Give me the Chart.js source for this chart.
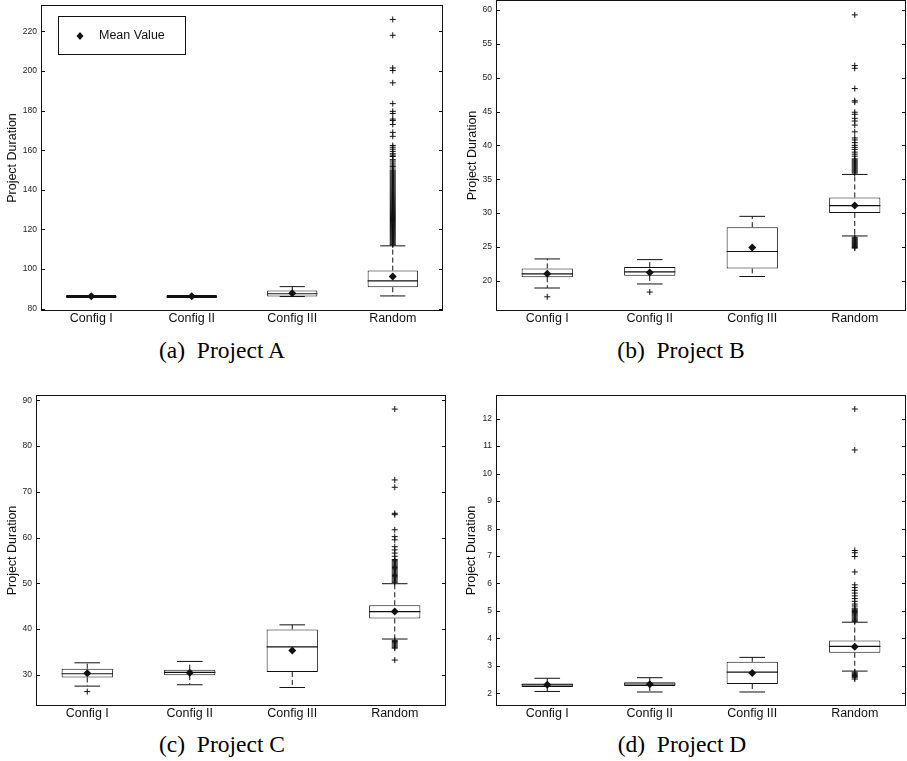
<!DOCTYPE html>
<html>
<head>
<meta charset="utf-8">
<script src="https://cdn.jsdelivr.net/npm/chart.js@4.4.0/dist/chart.umd.min.js"></script>
<style>
  body { margin: 0; background: #fff; width: 907px; height: 761px; position: relative; overflow: hidden; }
  .panel { position: absolute; }
  .cap { position: absolute; font-family: "Liberation Serif", "Times New Roman", serif; font-size: 23.5px; line-height: 23px; color: #000; white-space: nowrap; transform: translateX(-50%); }
</style>
</head>
<body>
<div class="panel" style="left:0;top:0;width:453px;height:330px"><canvas id="chartA"></canvas></div>
<div class="panel" style="left:453px;top:0;width:454px;height:330px"><canvas id="chartB"></canvas></div>
<div class="panel" style="left:0;top:380px;width:453px;height:345px"><canvas id="chartC"></canvas></div>
<div class="panel" style="left:453px;top:380px;width:454px;height:345px"><canvas id="chartD"></canvas></div>
<div class="cap" style="left:222px;top:339px">(a)&nbsp;&nbsp;Project A</div>
<div class="cap" style="left:681px;top:339px">(b)&nbsp;&nbsp;Project B</div>
<div class="cap" style="left:222px;top:733px">(c)&nbsp;&nbsp;Project C</div>
<div class="cap" style="left:682px;top:733px">(d)&nbsp;&nbsp;Project D</div>
<script>
// ========== DATA ==========
const categories = ['Config I', 'Config II', 'Config III', 'Random'];

// Project A
const aLow    = [86, 86, 86.1, 86.4];
const aQ1     = [85.4, 85.4, 86.1, 90.8];
const aMedian = [86.1, 86.1, 87.5, 94.0];
const aQ3     = [86.9, 86.9, 89.1, 99.2];
const aHigh   = [86, 86, 91.1, 111.7];
const aMean   = [86.2, 86.2, 87.8, 96.2];
const aOutRandom = [226, 218, 201.5, 200.2, 194, 183.5, 179.6, 178.5, 175.7, 175, 173, 169, 167,
  162.4, 161.5, 160.5, 159.4, 158.2, 157.5, 156.8, 155.2, 154.5, 153.5, 152.5, 151.8, 151,
  150, 149.5, 149, 148.5, 148, 147.5, 147, 146.5, 146, 145.5, 145, 144.5, 144, 143.5, 143,
  142.5, 142, 141.5, 141, 140.5, 140, 139.5, 139, 138.5, 138, 137.5, 137, 136.5, 136, 135.5,
  135, 134.5, 134, 133.5, 133, 132.5, 132, 131.5, 131, 130.5, 130, 129.5, 129, 128.5, 128,
  127.5, 127, 126.5, 126, 125.5, 125, 124.5, 124, 123.5, 123, 122.5, 122, 121.5, 121, 120.5,
  120, 119.5, 119, 118.5, 118, 117.5, 117, 116.5, 116, 115.5, 115, 114.5, 114, 113.5, 113,
  112.5, 112.2];
const aTicks  = [80, 100, 120, 140, 160, 180, 200, 220];

// Project B
const bLow    = [18.9, 19.5, 20.6, 26.6];
const bQ1     = [20.5, 20.7, 21.8, 30.0];
const bMedian = [21.0, 21.3, 24.3, 31.1];
const bQ3     = [21.8, 22.0, 27.9, 32.3];
const bHigh   = [23.2, 23.1, 29.5, 35.7];
const bMean   = [21.0, 21.2, 24.9, 31.1];
const bOutConfigI  = [17.6];
const bOutConfigII = [18.3];
const bOutRandom = [59.3, 51.8, 51.4, 48.4, 46.6, 46.4, 44.9, 44.6, 44.0, 43.6, 43.0, 42.0, 41.1,
  40.8, 40.4, 40.0, 39.7, 39.4, 39.0, 38.7, 38.4, 38.0, 37.85, 37.7, 37.55, 37.4, 37.25, 37.1,
  36.95, 36.8, 36.65, 36.5, 36.35, 36.2, 36.05, 35.9,
  26.4, 26.25, 26.1, 25.95, 25.8, 25.65, 25.5, 25.35, 25.2, 25.05, 24.9, 24.8];
const bTicks  = [20, 25, 30, 35, 40, 45, 50, 55, 60];

// Project C
const cLow    = [27.5, 27.8, 27.2, 37.8];
const cQ1     = [29.4, 29.9, 30.6, 42.3];
const cMedian = [30.2, 30.5, 36.1, 43.8];
const cQ3     = [31.3, 31.1, 39.9, 45.2];
const cHigh   = [32.6, 32.9, 40.9, 49.9];
const cMean   = [30.3, 30.4, 35.3, 43.8];
const cOutConfigI = [26.3];
const cOutRandom = [88.1, 72.6, 71.0, 65.3, 65.0, 61.7, 60.2, 59.5, 58.0, 57.3, 56.6, 55.9,
  55.2, 54.95, 54.7, 54.45, 54.2, 53.95, 53.7, 53.45, 53.2, 52.95, 52.7, 52.45, 52.2, 51.95,
  51.7, 51.45, 51.2, 50.95, 50.7, 50.45, 50.2,
  37.5, 37.25, 37.0, 36.75, 36.5, 36.25, 36.0, 35.8, 33.2];
const cTicks  = [30, 40, 50, 60, 70, 80, 90];

// Project D
const dLow    = [2.07, 2.05, 2.05, 2.81];
const dQ1     = [2.23, 2.27, 2.34, 3.48];
const dMedian = [2.31, 2.34, 2.77, 3.71];
const dQ3     = [2.36, 2.40, 3.15, 3.92];
const dHigh   = [2.55, 2.57, 3.31, 4.59];
const dMean   = [2.31, 2.33, 2.74, 3.70];
const dOutRandom = [12.35, 10.86, 7.2, 7.12, 6.98, 6.42, 5.95, 5.85, 5.75, 5.65, 5.55, 5.45, 5.35,
  5.25, 5.18, 5.10, 5.06, 5.02, 4.98, 4.94, 4.90, 4.86, 4.82, 4.78, 4.74, 4.70, 4.66, 4.62,
  2.77, 2.73, 2.69, 2.65, 2.61, 2.57, 2.52];
const dTicks  = [2, 3, 4, 5, 6, 7, 8, 9, 10, 11, 12];

const FONT = '"Liberation Sans", Arial, Helvetica, sans-serif';
const INK = '#111';

// ========== FRAME + INWARD TICKS ==========
const framePlugin = {
  id: 'frame',
  afterDatasetsDraw(chart) {
    const { ctx, chartArea: a } = chart;
    const y = chart.scales.y;
    ctx.save();
    ctx.strokeStyle = INK;
    ctx.lineWidth = 1;
    ctx.strokeRect(a.left + 0.5, a.top + 0.5, a.right - a.left - 1, a.bottom - a.top - 1);
    ctx.beginPath();
    y.ticks.forEach(t => {
      const py = Math.round(y.getPixelForValue(t.value)) + 0.5;
      ctx.moveTo(a.left, py); ctx.lineTo(a.left + 4, py);
      ctx.moveTo(a.right - 4, py); ctx.lineTo(a.right, py);
    });
    ctx.stroke();
    ctx.restore();
  }
};

// ========== MEAN VALUE LEGEND (panel A) ==========
const meanLegendPlugin = {
  id: 'meanLegend',
  afterDraw(chart) {
    const { ctx, chartArea: a } = chart;
    const x0 = a.left + 17, y0 = a.top + 11, w = 127, h = 38;
    ctx.save();
    ctx.strokeStyle = INK;
    ctx.lineWidth = 1;
    ctx.strokeRect(x0 + 0.5, y0 + 0.5, w, h);
    const cx = x0 + 22, cy = y0 + 20;
    ctx.fillStyle = INK;
    ctx.beginPath();
    ctx.moveTo(cx, cy - 4); ctx.lineTo(cx + 3.5, cy); ctx.lineTo(cx, cy + 4); ctx.lineTo(cx - 3.5, cy);
    ctx.closePath();
    ctx.fill();
    ctx.font = '12.5px ' + FONT;
    ctx.textBaseline = 'middle';
    ctx.fillText('Mean Value', x0 + 41, cy);
    ctx.restore();
  }
};

// ========== BOX CHART BUILDER ==========
function whiskerPoints(q1, q3, low, high) {
  const pts = [];
  categories.forEach((c, i) => {
    pts.push({ x: c, y: q3[i] }, { x: c, y: high[i] }, { x: c, y: null });
    pts.push({ x: c, y: q1[i] }, { x: c, y: low[i] }, { x: c, y: null });
  });
  return pts;
}

// box width is half a category slot; caps are half the box
const boxHalf = ctx => (ctx.chart.chartArea ? ctx.chart.chartArea.width / 16 : 25);
const capHalf = ctx => (ctx.chart.chartArea ? ctx.chart.chartArea.width / 32 : 12.5);

function makeBoxChart(id, p) {
  const outliers = [];
  p.outliers.forEach((list, i) => list.forEach(v => outliers.push({ x: categories[i], y: v })));
  const plugins = [framePlugin];
  if (p.legend) plugins.push(meanLegendPlugin);

  return new Chart(document.getElementById(id), {
    type: 'bar',
    data: {
      labels: categories,
      datasets: [
        {
          type: 'line', label: 'Mean Value', order: 0,
          data: categories.map((c, i) => ({ x: c, y: p.mean[i] })),
          showLine: false, pointStyle: 'rectRot', pointRadius: 4,
          pointBackgroundColor: INK, pointBorderColor: INK, pointBorderWidth: 0
        },
        {
          type: 'line', label: 'median', order: 1,
          data: categories.map((c, i) => ({ x: c, y: p.median[i] })),
          showLine: false, pointStyle: 'line', pointRadius: boxHalf,
          pointBorderColor: INK, pointBorderWidth: 1.2
        },
        {
          type: 'line', label: 'caps', order: 2,
          data: categories.flatMap((c, i) => [{ x: c, y: p.low[i] }, { x: c, y: p.high[i] }]),
          showLine: false, pointStyle: 'line', pointRadius: capHalf,
          pointBorderColor: INK, pointBorderWidth: 1
        },
        {
          type: 'line', label: 'outliers', order: 3,
          data: outliers,
          showLine: false, pointStyle: 'cross', pointRadius: 3,
          pointBorderColor: INK, pointBorderWidth: 1
        },
        {
          type: 'line', label: 'whiskers', order: 4,
          data: whiskerPoints(p.q1, p.q3, p.low, p.high),
          borderColor: INK, borderWidth: 1, borderDash: [5, 3],
          pointRadius: 0, spanGaps: false, fill: false
        },
        {
          type: 'bar', label: 'box', order: 5,
          data: categories.map((c, i) => [p.q1[i], p.q3[i]]),
          backgroundColor: '#fff', borderColor: INK, borderWidth: 1, borderSkipped: false,
          barPercentage: 0.5, categoryPercentage: 1.0
        }
      ]
    },
    options: {
      responsive: true,
      maintainAspectRatio: false,
      animation: false,
      events: [],
      layout: { autoPadding: false, padding: p.padding },
      plugins: { legend: { display: false }, tooltip: { enabled: false } },
      scales: {
        x: {
          type: 'category', offset: true,
          grid: { display: false, drawTicks: false }, border: { display: false },
          ticks: { color: INK, font: { family: FONT, size: 12.5 }, padding: 0, maxRotation: 0, autoSkip: false },
          afterFit: s => { s.height = 19; s.paddingLeft = 0; s.paddingRight = 0; }
        },
        y: {
          min: p.min, max: p.max,
          grid: { display: false, drawTicks: false }, border: { display: false },
          afterBuildTicks: s => { s.ticks = p.ticks.map(v => ({ value: v })); },
          ticks: { color: '#222', font: { family: FONT, size: 8.5 }, padding: 4 },
          title: {
            display: true, text: 'Project Duration', color: INK,
            font: { family: FONT, size: 12.5 }, padding: { top: p.titlePad, bottom: 0 }
          },
          afterFit: s => { s.width = p.yWidth; s.paddingTop = 0; s.paddingBottom = 0; }
        }
      }
    },
    plugins: plugins
  });
}

// ========== PANELS ==========
makeBoxChart('chartA', {
  low: aLow, q1: aQ1, median: aMedian, q3: aQ3, high: aHigh, mean: aMean,
  outliers: [[], [], [], aOutRandom], ticks: aTicks, min: 78.8, max: 233.3,
  yWidth: 41, titlePad: 5, padding: { top: 5, right: 10, left: 0, bottom: 0 }, legend: true
});
makeBoxChart('chartB', {
  low: bLow, q1: bQ1, median: bMedian, q3: bQ3, high: bHigh, mean: bMean,
  outliers: [bOutConfigI, bOutConfigII, [], bOutRandom], ticks: bTicks, min: 15.5, max: 61.5,
  yWidth: 43, titlePad: 12, padding: { top: 0, right: 1, left: 0, bottom: 0 }
});
makeBoxChart('chartC', {
  low: cLow, q1: cQ1, median: cMedian, q3: cQ3, high: cHigh, mean: cMean,
  outliers: [cOutConfigI, [], [], cOutRandom], ticks: cTicks, min: 23.15, max: 91.18,
  yWidth: 36, titlePad: 5.5, padding: { top: 15, right: 7, left: 0, bottom: 0 }
});
makeBoxChart('chartD', {
  low: dLow, q1: dQ1, median: dMedian, q3: dQ3, high: dHigh, mean: dMean,
  outliers: [[], [], [], dOutRandom], ticks: dTicks, min: 1.54, max: 12.86,
  yWidth: 43, titlePad: 11.5, padding: { top: 15, right: 1, left: 0, bottom: 0 }
});
</script>
</body>
</html>
